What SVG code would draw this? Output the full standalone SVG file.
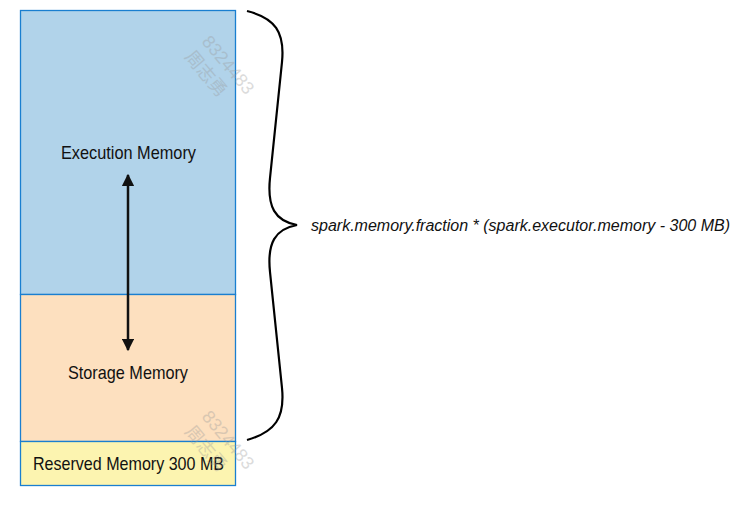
<svg xmlns="http://www.w3.org/2000/svg" width="749" height="510" viewBox="0 0 749 510">
<style>
.box{stroke:#1a7fd0;stroke-width:1.3}
.lbl{font-family:"Liberation Sans",Arial,sans-serif;font-size:19px;fill:#111;text-anchor:middle}
.wm{font-family:"Liberation Sans","Noto Sans CJK SC",sans-serif;font-size:18px;fill:#999;opacity:0.35}
</style>
<defs>
<marker id="ah" viewBox="0 0 10 10" refX="9" refY="5" markerWidth="5" markerHeight="5" orient="auto-start-reverse" markerUnits="strokeWidth">
<path d="M0,0 L10,5 L0,10 z" fill="#111"/>
</marker>
</defs>
<g id="execution">
<rect class="box" x="20.5" y="10.5" width="215" height="284" fill="#b1d3ea"/>
<text class="lbl" x="128.5" y="159" textLength="135" lengthAdjust="spacingAndGlyphs">Execution Memory</text>
</g>
<g id="storage">
<rect class="box" x="20.5" y="294.5" width="215" height="147" fill="#fde0bf"/>
<text class="lbl" x="128" y="379" textLength="120" lengthAdjust="spacingAndGlyphs">Storage Memory</text>
</g>
<g id="reserved">
<rect class="box" x="20.5" y="441.5" width="215" height="44" fill="#fcf4b0"/>
<text class="lbl" x="128.5" y="470" textLength="191" lengthAdjust="spacingAndGlyphs">Reserved Memory 300 MB</text>
</g>
<g id="connectors">
<line x1="128" y1="175" x2="128" y2="350" stroke="#111" stroke-width="2.5" marker-start="url(#ah)" marker-end="url(#ah)"/>
<path d="M247,11 C275,18 285,32 282,62 L270,178 C267,207 275,221 297,225 C275,229 267,243 270,272 L282,388 C285,418 275,432 247,440" fill="none" stroke="#000" stroke-width="2.2"/>
</g>
<g id="formula">
<text x="311" y="231" font-family="Liberation Sans,Arial,sans-serif" font-size="16px" font-style="italic" fill="#111" textLength="419" lengthAdjust="spacingAndGlyphs">spark.memory.fraction * (spark.executor.memory - 300 MB)</text>
</g>
<g id="watermarks">
<text class="wm" transform="translate(201,42) rotate(50)">8324483</text>
<text class="wm" transform="translate(184,57) rotate(50)">周志勇</text>
<text class="wm" transform="translate(201,417) rotate(50)">8324483</text>
<text class="wm" transform="translate(184,432) rotate(50)">周志勇</text>
</g>
</svg>
